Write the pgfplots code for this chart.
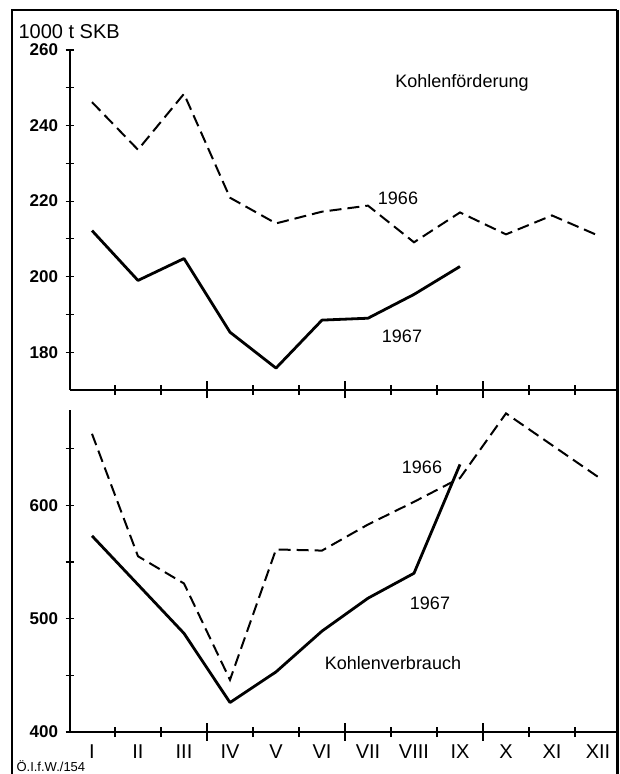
\documentclass[border=0pt]{standalone}
\usepackage{pgfplots}
\pgfplotsset{compat=1.18}
\usepackage{fontspec}
\setmainfont{Liberation Sans}
\pgfplotsset{
  panel/.style={scale only axis, width=547pt, xmin=0.522, xmax=12.413, clip=false,
    axis line style={-, line width=1.3pt}, tick style={line width=1.2pt, black},
    every outer x axis line/.append style={-}, every outer y axis line/.append style={-},
    every inner x axis line/.append style={-}, every inner y axis line/.append style={-},
    tick align=inside, /pgf/number format/assume math mode=true},
  y66/.style={black, line width=2pt, dash pattern=on 12pt off 6pt},
  y67/.style={black, line width=2.8pt, line join=round},
}
\begin{document}
\begin{tikzpicture}[x=1pt,y=1pt]
\path[use as bounding box] (0,0) rectangle (620,774);
% frame
\draw[line width=1.5pt] (12,0) -- (12,764) -- (617,764);
\draw[line width=3pt] (617,764) -- (617,0);
% ---------- top panel ----------
\begin{axis}[panel, height=340pt, ymin=170, ymax=260, at={(70pt,384pt)}, anchor=south west,
  axis x line=bottom, axis y line=left, xtick=\empty,
  ytick={180,200,...,260}, minor ytick={190,210,...,250},
  major tick length=9pt, minor tick length=9pt,
  x axis line style={-}, y axis line style={-},
  yticklabel style={font=\bfseries\fontsize{17}{17}\selectfont, xshift=-4pt}]
\addplot[y66] coordinates {(1,246.2)(2,233.6)(3,248.4)(4,220.9)(5,214.1)(6,217.2)(7,218.8)(8,209.1)(9,217.0)(10,211.2)(11,216.2)(12,210.9)};
\addplot[y67] coordinates {(1,212.2)(2,199.0)(3,204.8)(4,185.3)(5,175.8)(6,188.5)(7,189.0)(8,195.3)(9,202.7)};
\end{axis}
\begin{axis}[panel, height=340pt, ymin=170, ymax=260, at={(70pt,384pt)}, anchor=south west,
  axis x line=bottom, axis y line=none, ytick=\empty, x axis line style={-},
  xtick={3.5,6.5,9.5}, xticklabels={}, minor xtick={1.5,2.5,4.5,5.5,7.5,8.5,10.5,11.5},
  major tick length=17pt, minor tick length=10pt]
\end{axis}
% ---------- bottom panel ----------
\begin{axis}[panel, height=322pt, ymin=400, ymax=684, at={(70pt,42pt)}, anchor=south west,
  axis x line=bottom, axis y line=left, xtick=\empty,
  ytick={400,500,600}, minor ytick={450,550,650},
  major tick length=9pt, minor tick length=9pt,
  x axis line style={-}, y axis line style={-},
  yticklabel style={font=\bfseries\fontsize{17}{17}\selectfont, xshift=-4pt}]
\addplot[y66] coordinates {(1,663)(2,555)(3,531)(4,446)(5,561)(6,560)(7,583)(8,603)(9,624)(10,681)(11,653)(12,625)};
\addplot[y67] coordinates {(1,573)(2,530)(3,487)(4,426)(5,453)(6,489)(7,518)(8,540)(9,636)};
\end{axis}
\begin{axis}[panel, height=322pt, ymin=400, ymax=684, at={(70pt,42pt)}, anchor=south west,
  axis x line=bottom, axis y line=none, ytick=\empty, x axis line style={-},
  xtick={3.5,6.5,9.5}, xticklabels={}, minor xtick={1.5,2.5,4.5,5.5,7.5,8.5,10.5,11.5},
  major tick length=17pt, minor tick length=10pt]
\end{axis}
\begin{axis}[panel, height=322pt, ymin=400, ymax=684, at={(70pt,42pt)}, anchor=south west,
  axis x line=bottom, axis y line=none, ytick=\empty, x axis line style={-},
  xtick={1,...,12}, xticklabels={I,II,III,IV,V,VI,VII,VIII,IX,X,XI,XII},
  major tick length=0pt,
  xticklabel style={font=\fontsize{20}{20}\selectfont, yshift=-9pt}]
\end{axis}
% texts
\node[anchor=west, font=\fontsize{20}{20}\selectfont] at (15,742) {1000 t SKB};
\node[font=\fontsize{18}{18}\selectfont] at (462,691) {Kohlenförderung};
\node[font=\fontsize{18}{18}\selectfont] at (398,576) {1966};
\node[font=\fontsize{18}{18}\selectfont] at (402,438) {1967};
\node[font=\fontsize{18}{18}\selectfont] at (422,307) {1966};
\node[font=\fontsize{18}{18}\selectfont] at (430,171) {1967};
\node[font=\fontsize{18}{18}\selectfont] at (393,111) {Kohlenverbrauch};
\node[anchor=west, font=\fontsize{13}{13}\selectfont] at (13,8) {Ö.I.f.W./154};
\end{tikzpicture}
\end{document}
